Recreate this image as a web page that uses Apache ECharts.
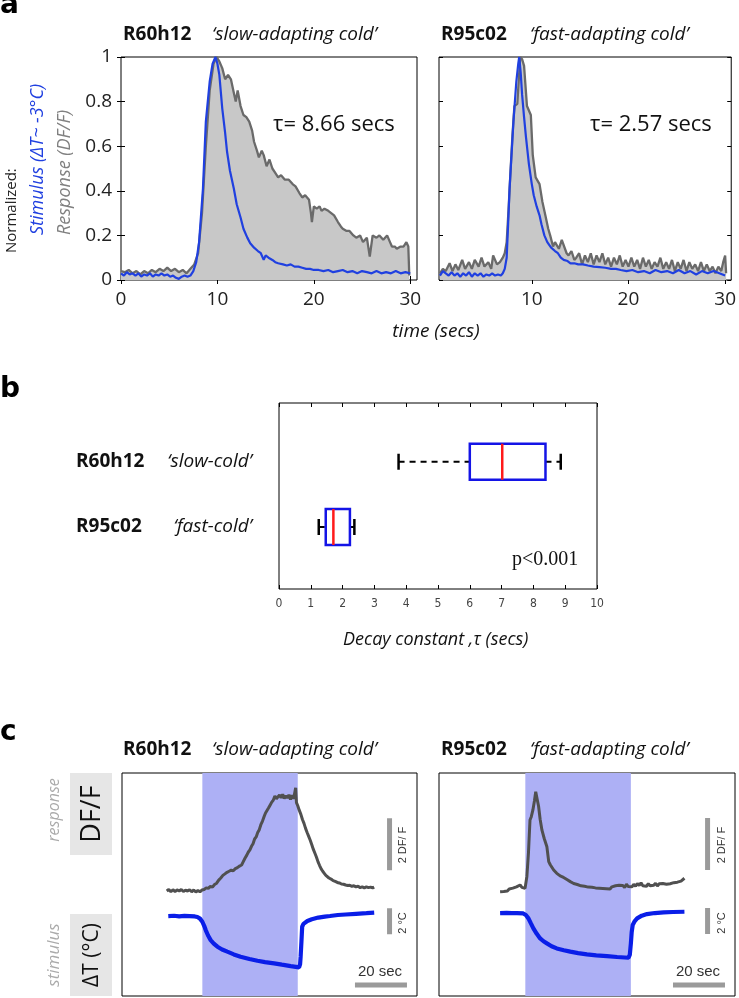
<!DOCTYPE html>
<html><head><meta charset="utf-8">
<script src="https://cdn.jsdelivr.net/npm/echarts@6/dist/echarts.min.js"></script>
<style>html,body{margin:0;padding:0;background:#fff}#c{width:739px;height:998px}</style>
</head><body><div id="c"></div>
<script>
// ---------- Panel a data: [time (s), normalized value] ----------
const aSlowResp = [[0,0.04],[0.4,0.035],[0.8,0.045],[1.2,0.03],[1.6,0.04],[2.0,0.025],[2.4,0.04],[2.8,0.03],[3.2,0.045],[3.6,0.035],[4.0,0.05],[4.4,0.04],[4.8,0.055],[5.2,0.04],[5.6,0.05],[6.0,0.035],[6.4,0.045],[6.8,0.03],[7.2,0.05],[7.6,0.07],[8.0,0.12],[8.4,0.3],[8.8,0.6],[9.2,0.85],[9.6,0.97],[9.9,1.0],[10.2,0.98],[10.5,0.95],[10.8,0.9],[11.1,0.92],[11.4,0.9],[11.7,0.84],[11.9,0.8],[12.1,0.85],[12.4,0.78],[12.7,0.74],[13.0,0.73],[13.3,0.71],[13.6,0.67],[13.8,0.62],[14.1,0.58],[14.3,0.55],[14.6,0.58],[14.8,0.56],[15.1,0.51],[15.4,0.54],[15.7,0.5],[16.0,0.48],[16.3,0.46],[16.6,0.47],[17.0,0.45],[17.4,0.45],[17.8,0.43],[18.1,0.42],[18.5,0.39],[18.8,0.37],[19.1,0.38],[19.5,0.36],[19.7,0.3],[19.8,0.26],[20.0,0.33],[20.3,0.32],[20.6,0.33],[20.8,0.31],[21.1,0.32],[21.5,0.31],[21.8,0.3],[22.1,0.29],[22.5,0.26],[22.8,0.24],[23.0,0.23],[23.4,0.22],[23.7,0.22],[24.1,0.2],[24.4,0.19],[24.8,0.2],[25.1,0.17],[25.5,0.19],[25.8,0.105],[26.1,0.2],[26.5,0.19],[26.8,0.2],[27.2,0.18],[27.6,0.2],[27.9,0.17],[28.1,0.15],[28.4,0.15],[28.6,0.14],[29.0,0.15],[29.3,0.15],[29.6,0.17],[29.8,0.15],[29.9,0.02]];
const aSlowStim = [[0,0.03],[0.3,0.02],[0.6,0.035],[0.9,0.025],[1.2,0.03],[1.5,0.02],[1.8,0.03],[2.1,0.015],[2.4,0.025],[2.7,0.02],[3.0,0.03],[3.3,0.015],[3.6,0.025],[3.9,0.02],[4.2,0.03],[4.5,0.02],[4.8,0.025],[5.1,0.015],[5.4,0.02],[5.7,0.01],[6.0,0.005],[6.3,0.015],[6.6,0.02],[6.9,0.015],[7.2,0.02],[7.5,0.04],[7.8,0.08],[8.1,0.17],[8.5,0.41],[8.8,0.71],[9.2,0.89],[9.5,0.97],[9.8,1.0],[10.0,0.97],[10.2,0.92],[10.5,0.77],[10.8,0.66],[11.0,0.575],[11.3,0.49],[11.7,0.41],[12.0,0.34],[12.4,0.28],[12.7,0.23],[13.1,0.19],[13.4,0.165],[13.8,0.145],[14.2,0.13],[14.5,0.12],[14.8,0.09],[15.0,0.11],[15.3,0.1],[15.7,0.09],[16.0,0.08],[16.3,0.075],[16.8,0.07],[17.2,0.065],[17.6,0.07],[18.0,0.06],[18.4,0.06],[18.8,0.055],[19.2,0.05],[19.6,0.05],[20.0,0.045],[20.5,0.045],[21.0,0.04],[21.5,0.045],[22.0,0.035],[22.5,0.04],[23.0,0.045],[23.5,0.035],[24.0,0.04],[24.5,0.03],[25.0,0.04],[25.5,0.035],[26.0,0.03],[26.5,0.04],[27.0,0.03],[27.5,0.035],[28.0,0.03],[28.5,0.04],[29.0,0.03],[29.5,0.035],[30.0,0.03]];
const aFastResp = [[0.5,0.03],[0.8,0.05],[1.1,0.04],[1.5,0.075],[1.8,0.04],[2.1,0.07],[2.4,0.045],[2.8,0.09],[3.1,0.05],[3.5,0.08],[3.8,0.05],[4.1,0.09],[4.5,0.06],[4.8,0.1],[5.1,0.06],[5.5,0.08],[5.8,0.05],[6.0,0.11],[6.4,0.07],[6.7,0.08],[7.0,0.1],[7.2,0.12],[7.4,0.17],[7.6,0.32],[7.8,0.49],[8.0,0.65],[8.2,0.78],[8.5,0.79],[8.8,1.0],[9.0,0.99],[9.2,0.96],[9.5,0.78],[9.9,0.74],[10.1,0.56],[10.4,0.46],[10.8,0.43],[11.1,0.35],[11.4,0.29],[11.7,0.23],[11.9,0.2],[12.2,0.15],[12.4,0.17],[12.8,0.14],[13.1,0.18],[13.3,0.18],[13.6,0.12],[13.8,0.11],[14.1,0.13],[14.4,0.09],[14.6,0.1],[14.9,0.12],[15.2,0.07],[15.5,0.11],[15.8,0.08],[16.1,0.12],[16.4,0.07],[16.7,0.11],[17.0,0.08],[17.3,0.12],[17.6,0.07],[17.9,0.1],[18.2,0.06],[18.5,0.1],[18.8,0.07],[19.1,0.11],[19.4,0.06],[19.7,0.09],[20.0,0.06],[20.3,0.1],[20.6,0.06],[20.9,0.09],[21.2,0.05],[21.5,0.1],[21.8,0.06],[22.1,0.09],[22.4,0.05],[22.7,0.08],[23.0,0.06],[23.3,0.1],[23.6,0.05],[23.9,0.08],[24.2,0.05],[24.5,0.09],[24.8,0.04],[25.1,0.08],[25.4,0.05],[25.7,0.09],[26.0,0.04],[26.3,0.08],[26.6,0.05],[26.9,0.07],[27.2,0.04],[27.5,0.08],[27.8,0.04],[28.1,0.07],[28.4,0.04],[28.7,0.06],[29.0,0.03],[29.3,0.06],[29.6,0.04],[29.8,0.08],[30.0,0.11],[30.1,0.03]];
const aFastStim = [[0.5,0.02],[0.8,0.04],[1.1,0.03],[1.4,0.02],[1.7,0.035],[2.0,0.02],[2.3,0.03],[2.6,0.015],[2.9,0.03],[3.2,0.02],[3.5,0.035],[3.8,0.015],[4.1,0.03],[4.4,0.02],[4.7,0.03],[5.0,0.015],[5.3,0.025],[5.6,0.02],[5.9,0.03],[6.2,0.02],[6.5,0.025],[6.8,0.02],[7.0,0.03],[7.2,0.05],[7.4,0.1],[7.55,0.25],[7.7,0.41],[7.9,0.56],[8.1,0.71],[8.4,0.89],[8.6,0.97],[8.7,1.0],[8.85,0.93],[9.0,0.83],[9.2,0.73],[9.4,0.64],[9.7,0.52],[10.0,0.43],[10.2,0.38],[10.5,0.33],[10.8,0.29],[11.0,0.25],[11.3,0.2],[11.6,0.17],[12.0,0.145],[12.4,0.13],[12.7,0.12],[13.0,0.1],[13.3,0.09],[13.7,0.085],[14.0,0.075],[14.4,0.075],[14.8,0.07],[15.3,0.07],[15.8,0.065],[16.4,0.06],[17.0,0.058],[17.6,0.055],[18.2,0.05],[18.7,0.05],[19.2,0.045],[19.8,0.04],[20.4,0.045],[21.0,0.035],[21.6,0.04],[22.2,0.03],[22.8,0.045],[23.4,0.035],[24.0,0.04],[24.6,0.03],[25.2,0.045],[25.8,0.03],[26.4,0.04],[27.0,0.025],[27.6,0.04],[28.2,0.03],[28.8,0.04],[29.4,0.03],[30.0,0.02]];
const aTauLabels = ['\u03C4= 8.66 secs', '\u03C4= 2.57 secs'];
const aXTicksLeft = [0, 10, 20, 30];
const aXTicksRight = [10, 20, 30];

// ---------- Panel b data ----------
const boxNames = ['R60h12', 'R95c02'];
const boxTypes = ['\u2018slow-cold\u2019', '\u2018fast-cold\u2019'];
const boxPositions = [2, 1];
// [lower whisker, q1, median, q3, upper whisker] decay constant (s)
const boxStats = [[3.76, 6.0, 7.02, 8.38, 8.86], [1.25, 1.47, 1.71, 2.23, 2.37]];

// ---------- Panel c data: [time (s), value] ----------
const cSlowResp = [[17.2,0.0],[18,0.06],[18.8,-0.03],[19.6,0.05],[20.4,-0.02],[21.2,0.04],[22,0.0],[22.8,0.06],[23.6,-0.02],[24.4,0.03],[25.2,0.0],[26,0.05],[26.8,-0.03],[27.6,0.04],[28.4,-0.04],[29.2,0.02],[30,-0.03],[30.8,0.04],[31.6,0.06],[32.4,0.12],[33.2,0.1],[34,0.18],[34.8,0.15],[35.6,0.25],[36.4,0.3],[37.2,0.42],[38,0.5],[38.8,0.6],[39.6,0.66],[40.4,0.72],[41.2,0.76],[42,0.8],[42.8,0.78],[43.6,0.86],[44.4,0.9],[45.2,0.96],[46,1.0],[46.6,1.12],[47.3,1.26],[48,1.38],[48.6,1.5],[49.2,1.58],[49.8,1.72],[50.4,1.82],[51,2.0],[51.6,2.08],[52.2,2.25],[52.8,2.36],[53.4,2.55],[54,2.68],[54.6,2.85],[55.2,3.0],[55.8,3.05],[56.4,3.2],[57,3.31],[57.6,3.42],[58.2,3.5],[58.8,3.65],[59.4,3.55],[60,3.62],[60.6,3.7],[61.2,3.58],[61.8,3.72],[62.4,3.56],[63,3.66],[63.6,3.58],[64.2,3.7],[64.8,3.52],[65.4,3.68],[66,3.55],[66.6,3.6],[66.8,3.97],[67.1,3.4],[67.6,3.28],[68.2,3.1],[68.8,2.95],[69.4,2.75],[70,2.6],[70.6,2.41],[71.2,2.25],[71.8,2.1],[72.4,1.95],[73,1.78],[73.6,1.6],[74.2,1.45],[74.8,1.3],[75.4,1.12],[76,0.98],[76.6,0.85],[77.2,0.76],[77.8,0.68],[78.4,0.6],[79,0.55],[79.6,0.5],[80.4,0.46],[81.2,0.4],[82,0.37],[82.8,0.33],[83.6,0.31],[84.4,0.27],[85.2,0.26],[86,0.23],[86.8,0.21],[87.6,0.22],[88.4,0.18],[89.2,0.2],[90,0.16],[90.8,0.18],[91.6,0.13],[92.4,0.16],[93.2,0.12],[94,0.16],[94.8,0.13],[95.6,0.15],[96.4,0.12],[97,0.15]];
const cSlowStim = [[17.8,0],[20,0.02],[22,-0.02],[24,0.01],[26,0],[28,-0.03],[29,-0.08],[30.0,-0.2],[30.9,-0.44],[31.6,-0.75],[32.2,-1.08],[33.1,-1.5],[34.1,-1.85],[35.3,-2.12],[36.7,-2.36],[38.5,-2.57],[40.5,-2.74],[43,-2.95],[45.6,-3.13],[49,-3.3],[52.1,-3.44],[55,-3.54],[58.5,-3.64],[61.5,-3.74],[64.9,-3.85],[68.1,-3.95],[68.5,-3.7],[68.7,-3.13],[69.0,-2.0],[69.3,-0.82],[69.8,-0.6],[71.3,-0.38],[73,-0.25],[75.5,-0.12],[78,-0.04],[80,0.0],[83,0.08],[86,0.12],[90,0.17],[94,0.22],[97,0.26]];
const cFastResp = [[23.5,0.01],[24.2,0.06],[24.9,0.02],[25.6,0.09],[26.3,0.04],[27,0.12],[27.7,0.08],[28.4,0.15],[29.1,0.1],[29.8,0.2],[30.5,0.13],[31.2,0.27],[31.9,0.18],[32.6,0.22],[33.1,0.14],[33.8,0.6],[34.4,1.49],[35.0,2.77],[35.5,2.9],[36.1,3.15],[36.7,3.5],[37.2,3.86],[37.8,3.55],[38.3,3.3],[38.9,2.8],[39.6,2.38],[40.5,2.05],[41.5,1.74],[42.2,1.17],[42.8,1.05],[43.4,0.98],[44.1,0.85],[44.7,0.82],[45.3,0.72],[46,0.7],[46.6,0.62],[47.3,0.63],[47.9,0.56],[48.6,0.55],[49.2,0.48],[49.8,0.5],[50.5,0.4],[51.2,0.42],[51.8,0.33],[52.5,0.36],[53.2,0.29],[53.9,0.32],[54.6,0.24],[55.3,0.28],[56,0.22],[56.7,0.27],[57.4,0.19],[58.1,0.24],[58.8,0.18],[59.5,0.23],[60.2,0.16],[60.9,0.22],[61.6,0.15],[62.3,0.2],[63,0.14],[63.7,0.19],[64.4,0.13],[65.1,0.18],[65.8,0.12],[66.5,0.2],[67.2,0.16],[67.9,0.24],[68.6,0.18],[69.3,0.26],[70,0.2],[70.7,0.25],[71.4,0.17],[72.1,0.3],[72.8,0.21],[73.5,0.28],[74.2,0.2],[74.9,0.3],[75.6,0.22],[76.3,0.33],[77,0.25],[77.7,0.36],[78.4,0.24],[79.1,0.3],[79.8,0.22],[80.5,0.32],[81.2,0.24],[81.9,0.3],[82.6,0.26],[83.3,0.34],[84,0.23],[84.7,0.32],[85.4,0.25],[86.1,0.33],[86.8,0.26],[87.5,0.3],[88.2,0.24],[88.9,0.32],[89.6,0.27],[90.3,0.36],[91,0.3],[91.7,0.38],[92.4,0.33],[93.1,0.42],[93.8,0.36],[94.4,0.53]];
const cFastStim = [[23.5,0],[26,0.01],[28,-0.01],[30,0.0],[32.4,-0.03],[33.4,-0.15],[34.4,-0.41],[35.3,-0.78],[36.3,-1.18],[37.6,-1.6],[38.9,-1.95],[40.2,-2.17],[41.5,-2.33],[43.3,-2.55],[45.3,-2.72],[48,-2.86],[50.5,-2.97],[53.5,-3.08],[56.9,-3.18],[60.5,-3.25],[64.6,-3.31],[68.5,-3.38],[72.9,-3.44],[73.4,-3.2],[73.8,-2.33],[74.1,-1.5],[74.5,-0.92],[75.3,-0.62],[76.2,-0.41],[78,-0.2],[80.0,-0.08],[83,0.0],[86.4,0.05],[90,0.08],[94.4,0.1]];
const cCoolSlow = [30.9, 67.6];   // cooling period (s)
const cCoolFast = [33.2, 73.8];
const scaleDF = 2, scaleDegC = 2, scaleSec = 20;

// ---------- styling ----------
const FONT = '"Open Sans", "Noto Sans", sans-serif';
const NARROW = '"Liberation Sans Narrow", "DejaVu Sans Condensed", "Liberation Sans", sans-serif';
const BLUE_A = '#2040e0', GRAY_LINE = '#6a6a6a', GRAY_FILL = '#c8c8c8';
const BLUE_C = '#0a1ee8', GRAY_C = '#505050', SHADE = '#adb0f5', BAR = '#9a9a9a';

const chart = echarts.init(document.getElementById('c'));

function tickAx(gridIndex, position, extra) {
  return Object.assign({
    gridIndex, position, type: 'value',
    axisLine: {show: false}, splitLine: {show: false},
    axisTick: {show: true, inside: true, length: 4, lineStyle: {color: '#000', width: 1}},
    axisLabel: {show: false}
  }, extra);
}
const lblA = {fontSize: 19, fontFamily: FONT, color: '#222'};
const tickC = vals => ({show: true, inside: true, length: 4, lineStyle: {color: '#000'}, customValues: vals});

const xAxis = [
  tickAx(0, 'bottom', {min: 0, max: 30.7, axisTick: tickC(aXTicksLeft), axisLabel: Object.assign({show: true, margin: 10, customValues: aXTicksLeft}, lblA)}),
  tickAx(0, 'top', {min: 0, max: 30.7, axisTick: tickC(aXTicksLeft)}),
  tickAx(1, 'bottom', {min: 0.4, max: 30.63, axisTick: tickC(aXTicksRight), axisLabel: Object.assign({show: true, margin: 10, customValues: aXTicksRight}, lblA)}),
  tickAx(1, 'top', {min: 0.4, max: 30.63, axisTick: tickC(aXTicksRight)}),
  tickAx(2, 'bottom', {min: 0, max: 10, interval: 1, axisLabel: {show: true, margin: 9, fontSize: 12, fontFamily: NARROW, color: '#444'}}),
  tickAx(2, 'top', {min: 0, max: 10, interval: 1}),
  {gridIndex: 3, type: 'value', min: 0, max: 113.46, show: false},
  {gridIndex: 4, type: 'value', min: 0, max: 113.85, show: false}
];
const yAxis = [
  tickAx(0, 'left', {min: 0, max: 1, interval: 0.2, axisLabel: Object.assign({show: true, margin: 9}, lblA)}),
  tickAx(0, 'right', {min: 0, max: 1, interval: 0.2}),
  tickAx(1, 'left', {min: 0, max: 1, interval: 0.2}),
  tickAx(1, 'right', {min: 0, max: 1, interval: 0.2}),
  {gridIndex: 2, type: 'value', position: 'left', min: 0.05, max: 2.9, axisLine: {show: false}, axisTick: {show: false}, splitLine: {show: false},
   axisLabel: {show: true, customValues: boxPositions, align: 'left', margin: 203, fontSize: 19, fontWeight: 'bold', fontFamily: FONT, color: '#111',
     formatter: v => boxNames[boxPositions.indexOf(v)] || ''}},
  {gridIndex: 2, type: 'value', position: 'left', min: 0.05, max: 2.9, axisLine: {show: false}, axisTick: {show: false}, splitLine: {show: false},
   axisLabel: {show: true, customValues: boxPositions, align: 'right', margin: 27, fontSize: 19, fontStyle: 'italic', fontFamily: FONT, color: '#111',
     formatter: v => boxTypes[boxPositions.indexOf(v)] || ''}},
  {gridIndex: 3, type: 'value', min: -4.04, max: 4.54, show: false},
  {gridIndex: 3, type: 'value', min: -6.15, max: 11.0, show: false},
  {gridIndex: 4, type: 'value', min: -4.0, max: 4.58, show: false},
  {gridIndex: 4, type: 'value', min: -6.38, max: 10.77, show: false}
];

const gridBase = {show: true, borderColor: '#000', borderWidth: 1, backgroundColor: 'transparent', containLabel: false};
const grid = [
  Object.assign({left: 121, top: 57, width: 296, height: 223}, gridBase),
  Object.assign({left: 439, top: 57, width: 296, height: 223}, gridBase),
  Object.assign({left: 279, top: 403, width: 318, height: 186}, gridBase),
  Object.assign({left: 122, top: 773, width: 295, height: 223}, gridBase),
  Object.assign({left: 439, top: 773, width: 296, height: 223}, gridBase)
];

function lineS(xi, yi, data, color, width, extra) {
  return Object.assign({type: 'line', xAxisIndex: xi, yAxisIndex: yi, data, showSymbol: false, symbol: 'none', silent: true,
    animation: false, lineStyle: {color, width}}, extra || {});
}
function barS(xi, yi, pts) {
  return {type: 'line', xAxisIndex: xi, yAxisIndex: yi, data: pts, symbol: 'none', silent: true, animation: false,
    lineStyle: {color: BAR, width: 5, cap: 'butt'}, z: 5};
}
function shade(range) {
  return {silent: true, itemStyle: {color: SHADE, opacity: 1}, data: [[{xAxis: range[0]}, {xAxis: range[1]}]]};
}

const boxData = boxPositions.map((p, i) => [p].concat(boxStats[i]));

const series = [
  lineS(0, 0, aSlowResp, GRAY_LINE, 2.3, {areaStyle: {color: GRAY_FILL, opacity: 1}}),
  lineS(0, 0, aSlowStim, BLUE_A, 2.2),
  lineS(2, 2, aFastResp, GRAY_LINE, 2.3, {areaStyle: {color: GRAY_FILL, opacity: 1}}),
  lineS(2, 2, aFastStim, BLUE_A, 2.2),
  {
    type: 'custom', xAxisIndex: 4, yAxisIndex: 4, data: boxData, silent: true, animation: false,
    encode: {x: [1, 2, 3, 4, 5], y: 0},
    renderItem: function (params, api) {
      const y = api.value(0);
      const pLo = api.coord([api.value(1), y]), pQ1 = api.coord([api.value(2), y]), pMed = api.coord([api.value(3), y]);
      const pQ3 = api.coord([api.value(4), y]), pHi = api.coord([api.value(5), y]);
      const cy = pQ1[1], h = 18, c = 8;
      const blk = {stroke: '#000', lineWidth: 2, lineDash: [6, 5]};
      return {type: 'group', children: [
        {type: 'line', shape: {x1: pLo[0], y1: cy, x2: pQ1[0], y2: cy}, style: blk},
        {type: 'line', shape: {x1: pQ3[0], y1: cy, x2: pHi[0], y2: cy}, style: blk},
        {type: 'line', shape: {x1: pLo[0], y1: cy - c, x2: pLo[0], y2: cy + c}, style: {stroke: '#000', lineWidth: 2.5}},
        {type: 'line', shape: {x1: pHi[0], y1: cy - c, x2: pHi[0], y2: cy + c}, style: {stroke: '#000', lineWidth: 2.5}},
        {type: 'rect', shape: {x: pQ1[0], y: cy - h, width: pQ3[0] - pQ1[0], height: 2 * h}, style: {fill: 'none', stroke: '#1414e6', lineWidth: 2.5}},
        {type: 'line', shape: {x1: pMed[0], y1: cy - h, x2: pMed[0], y2: cy + h}, style: {stroke: '#ff1a1a', lineWidth: 2.5}}
      ]};
    }
  },
  lineS(6, 6, cSlowResp, GRAY_C, 3, {markArea: shade(cCoolSlow)}),
  lineS(6, 7, cSlowStim, BLUE_C, 4.2),
  lineS(7, 8, cFastResp, GRAY_C, 3, {markArea: shade(cCoolFast)}),
  lineS(7, 9, cFastStim, BLUE_C, 4.2),
  barS(6, 6, [[102.9, 0.8], [102.9, 0.8 + scaleDF]]),
  barS(6, 7, [[102.9, -1.4], [102.9, -1.4 + scaleDegC]]),
  barS(6, 7, [[89.6, -5.31], [89.6 + scaleSec, -5.31]]),
  barS(7, 8, [[103.3, 0.85], [103.3, 0.85 + scaleDF]]),
  barS(7, 9, [[103.3, -1.62], [103.3, -1.62 + scaleDegC]]),
  barS(7, 9, [[90, -5.54], [90 + scaleSec, -5.54]])
];

function txt(x, y, text, o) {
  return {type: 'text', x, y, silent: true, rotation: o.rot || 0,
    style: {text, fontSize: o.size, fontFamily: o.family || FONT, fontWeight: o.weight || 'normal', fontStyle: o.style || 'normal',
      fill: o.color || '#111', textAlign: o.align || 'left', textVerticalAlign: 'middle'}};
}
const R = Math.PI / 2;
const LETTER = '"DejaVu Sans", sans-serif';
const SMALL = '"Liberation Sans", sans-serif';
const graphic = [
  txt(0, 6, 'a', {size: 28, weight: 'bold', family: LETTER, color: '#000'}),
  txt(0, 390, 'b', {size: 28, weight: 'bold', family: LETTER, color: '#000'}),
  txt(0, 733, 'c', {size: 28, weight: 'bold', family: LETTER, color: '#000'}),
  txt(123, 35, boxNames[0], {size: 19, weight: 'bold'}),
  txt(212, 35, '\u2018slow-adapting cold\u2019', {size: 19, style: 'italic'}),
  txt(441, 35, boxNames[1], {size: 19, weight: 'bold'}),
  txt(530, 35, '\u2018fast-adapting cold\u2019', {size: 19, style: 'italic'}),
  txt(123, 750, boxNames[0], {size: 19, weight: 'bold'}),
  txt(212, 750, '\u2018slow-adapting cold\u2019', {size: 19, style: 'italic'}),
  txt(441, 750, boxNames[1], {size: 19, weight: 'bold'}),
  txt(530, 750, '\u2018fast-adapting cold\u2019', {size: 19, style: 'italic'}),
  txt(273, 125, aTauLabels[0], {size: 22}),
  txt(590, 125, aTauLabels[1], {size: 22}),
  txt(12, 253, 'Normalized:', {size: 15, rot: R, color: '#222'}),
  txt(38, 235, 'Stimulus (\u0394T~ -3\u00B0C)', {size: 18, rot: R, style: 'italic', color: BLUE_A}),
  txt(65, 235, 'Response (DF/F)', {size: 18, rot: R, style: 'italic', color: '#808080'}),
  txt(436, 332, 'time (secs)', {size: 19, style: 'italic', align: 'center'}),
  txt(512, 560, 'p<0.001', {size: 20, family: '"Liberation Serif", "DejaVu Serif", serif'}),
  txt(343, 640, 'Decay constant ,\u03C4 (secs)', {size: 18, style: 'italic'}),
  {type: 'rect', shape: {x: 70, y: 773, width: 42, height: 82}, style: {fill: '#e6e6e6'}, silent: true},
  {type: 'rect', shape: {x: 70, y: 914, width: 42, height: 82}, style: {fill: '#e6e6e6'}, silent: true},
  txt(92, 814, 'DF/F', {size: 27, rot: R, align: 'center'}),
  txt(92, 955, '\u0394T (\u00B0C)', {size: 21, rot: R, align: 'center'}),
  txt(54, 810, 'response', {size: 16, rot: R, align: 'center', style: 'italic', color: '#aaaaaa'}),
  txt(54, 955, 'stimulus', {size: 17, rot: R, align: 'center', style: 'italic', color: '#aaaaaa'}),
  txt(403, 845, '2 DF/ F', {size: 11, rot: R, align: 'center', family: SMALL, color: '#333'}),
  txt(403, 923, '2 \u00B0C', {size: 11, rot: R, align: 'center', family: SMALL, color: '#333'}),
  txt(380, 972, '20 sec', {size: 15, align: 'center', family: SMALL, color: '#333'}),
  txt(722, 845, '2 DF/ F', {size: 11, rot: R, align: 'center', family: SMALL, color: '#333'}),
  txt(722, 923, '2 \u00B0C', {size: 11, rot: R, align: 'center', family: SMALL, color: '#333'}),
  txt(698, 972, '20 sec', {size: 15, align: 'center', family: SMALL, color: '#333'})
];

chart.setOption({animation: false, backgroundColor: '#fff', grid, xAxis, yAxis, series, graphic});
</script></body></html>
